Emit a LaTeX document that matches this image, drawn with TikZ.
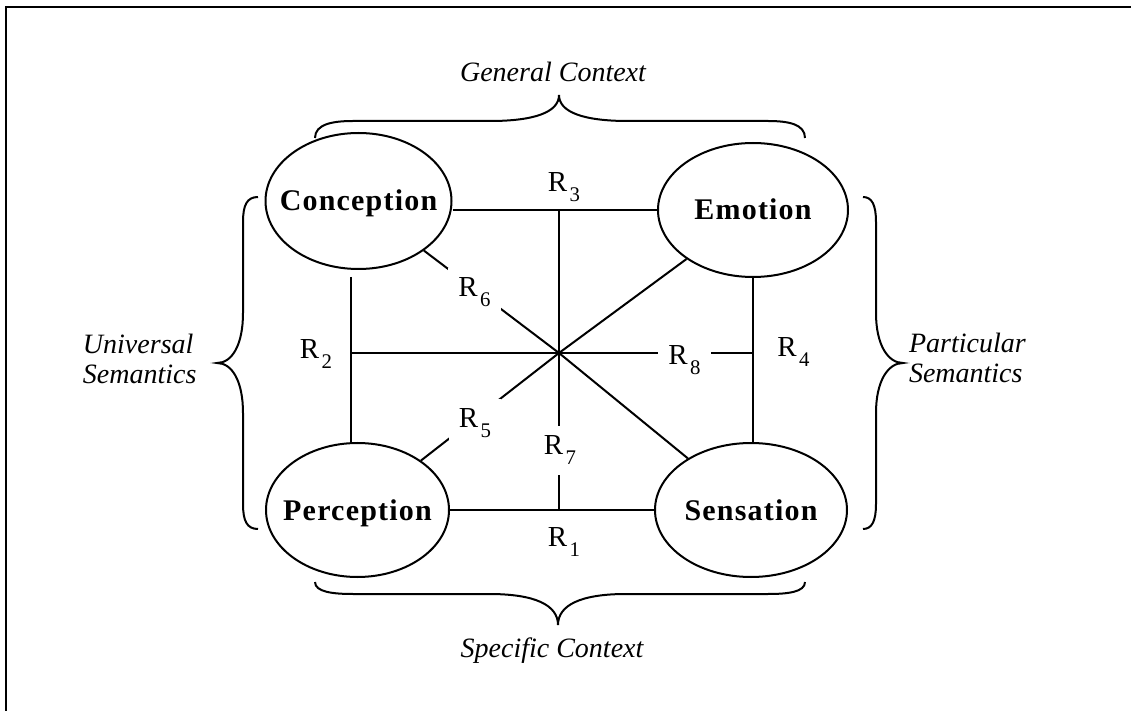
\documentclass[tikz,border=0pt]{standalone}
\usepackage{fontspec}
\setmainfont{Liberation Serif}
\usetikzlibrary{shapes.geometric}
\newcommand\rsub[1]{R\kern1.2pt\raisebox{-5pt}{\fontsize{10.4}{12}\selectfont #1}}
\begin{document}
\begin{tikzpicture}[x=0.5pt,y=-0.5pt,line width=1pt,
  concept/.style={ellipse,draw,inner sep=0pt,text height=10pt,text depth=0pt,
    font=\fontsize{15}{18}\selectfont\bfseries\addfontfeatures{LetterSpace=4}},
  rel/.style={inner sep=0pt,font=\fontsize{14.5}{16}\selectfont},
  gaprel/.style={rel,fill=white,inner sep=5pt},
  ctx/.style={inner sep=0pt,font=\fontsize{14}{15}\selectfont\itshape},
  bracket/.style={line width=1pt},
  frameline/.style={line width=1pt}]
\useasboundingbox (0,0) rectangle (1131,711);
% frame
\draw[frameline] (6,711) -- (6,7) -- (1131,7);
% concepts
\node[concept,minimum width=93pt,minimum height=68pt] (Conception) at (358.5,201) {\makebox[0pt]{Conception}};
\node[concept,minimum width=95pt,minimum height=67pt] (Emotion) at (753,210) {\makebox[0pt]{Emotion}};
\node[concept,minimum width=91.5pt,minimum height=67pt] (Perception) at (357.5,510) {\makebox[0pt]{Perception}};
\node[concept,minimum width=96pt,minimum height=67pt] (Sensation) at (751,510) {\makebox[0pt]{Sensation}};
% junctions
\coordinate (hub) at (559,353);
\coordinate (lj) at (351,353);
\coordinate (rj) at (753,353);
\coordinate (tj) at (559,210);
\coordinate (bj) at (559,510);
% connectors
\draw (Conception.east |- tj) -- (Emotion.west);
\draw (Perception.east) -- (Sensation.west);
\draw[shorten <=3.5pt] (lj |- Conception.south) -- (lj |- Perception.north);
\draw (rj |- Emotion.south) -- (rj |- Sensation.north);
\draw (lj) -- (rj);
\draw (tj) -- (bj);
\draw (Conception) -- (hub) -- (Sensation);
\draw (Perception) -- (hub) -- (Emotion);
% relation labels
\node[rel] (R3) at (564,187.5) {\rsub{3}};
\node[rel] (R1) at (564,542.5) {\rsub{1}};
\node[rel] (R2) at (316,354) {\rsub{2}};
\node[rel] (R4) at (793.5,352) {\rsub{4}};
\node[gaprel] (R5) at (475,423.5) {\rsub{5}};
\node[gaprel] (R6) at (474.5,292.5) {\rsub{6}};
\node[gaprel] (R7) at (560,450.5) {\rsub{7}};
\node[gaprel] (R8) at (684.5,360) {\rsub{8}};
% braces
\draw[bracket] (315,138) .. controls (315,124) and (333,121) .. (353,121) -- (490,121)
  .. controls (535,121) and (559,112) .. (559,95)
  .. controls (559,112) and (583,121) .. (628,121) -- (768,121)
  .. controls (788,121) and (805,124) .. (805,138);
\draw[bracket] (315,582) .. controls (315,592) and (333,594) .. (353,594) -- (489,594)
  .. controls (535,594) and (558,605) .. (558,625)
  .. controls (558,605) and (581,594) .. (626,594) -- (768,594)
  .. controls (788,594) and (805,592) .. (805,582);
\draw[bracket] (258,197) .. controls (247,197) and (243,205) .. (243,222) -- (243,313)
  .. controls (243,345) and (232,363) .. (217,363)
  .. controls (232,363) and (243,381) .. (243,413) -- (243,504)
  .. controls (243,521) and (247,529) .. (258,529);
\draw[bracket] (863,197) .. controls (872,197) and (876,205) .. (876,222) -- (876,313)
  .. controls (876,345) and (888,363) .. (903,363)
  .. controls (888,363) and (876,381) .. (876,413) -- (876,504)
  .. controls (876,521) and (872,529) .. (863,529);
% context texts
\node[ctx,anchor=base] (gen) at (553,82) {General Context};
\node[ctx,anchor=base] (spec) at (552,657) {Specific Context};
\node[ctx,anchor=north west,align=left] (univ) at (82,333) {Universal\\Semantics};
\node[ctx,anchor=north west,align=left] (part) at (908,332) {Particular\\Semantics};
\end{tikzpicture}
\end{document}
